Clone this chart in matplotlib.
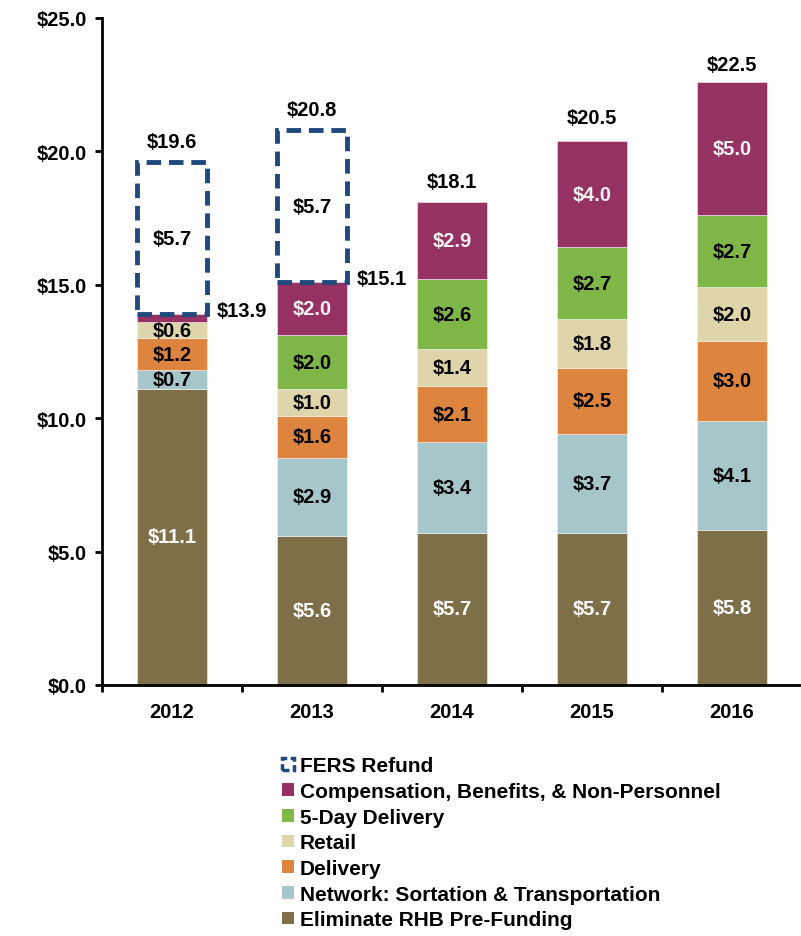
import numpy as np
import matplotlib
matplotlib.use("Agg")
import matplotlib.pyplot as plt
import matplotlib.patches as mpatches

FS = 14.5
plt.rcParams.update({
    "font.family": "Liberation Sans",
    "font.weight": "bold",
    "font.size": FS,
})

# Data
years = ["2012", "2013", "2014", "2015", "2016"]
rhb      = [11.1, 5.6, 5.7, 5.7, 5.8]
network  = [0.7, 2.9, 3.4, 3.7, 4.1]
delivery = [1.2, 1.6, 2.1, 2.5, 3.0]
retail   = [0.6, 1.0, 1.4, 1.8, 2.0]
five_day = [0.0, 2.0, 2.6, 2.7, 2.7]
comp     = [0.3, 2.0, 2.9, 4.0, 5.0]
fers     = [5.7, 5.7, 0.0, 0.0, 0.0]
subtotals = [13.9, 15.1, 18.1, 20.5, 22.5]
totals    = [19.6, 20.8, 18.1, 20.5, 22.5]

series = [
    ("Eliminate RHB Pre-Funding", rhb, "#7f6f48", "white"),
    ("Network: Sortation & Transportation", network, "#a6c6ca", "black"),
    ("Delivery", delivery, "#dd843e", "black"),
    ("Retail", retail, "#ded6aa", "black"),
    ("5-Day Delivery", five_day, "#7eb747", "black"),
    ("Compensation, Benefits, & Non-Personnel", comp, "#963262", "#f2f2f2"),
]
C_FERS = "#1f497d"

fig = plt.figure(figsize=(8.01, 9.37), dpi=100)
ax = fig.add_axes([102 / 801, 1 - 686 / 937, 700 / 801, 667 / 937])

x = np.arange(len(years))
W = 0.5
bottom = np.zeros(len(years))
handles = []
for name, vals, color, tcol in series:
    vals = np.array(vals)
    ax.bar(x, vals, W, bottom=bottom, color=color, edgecolor="#f4f4f4",
           linewidth=0.4, zorder=2)
    for i, v in enumerate(vals):
        if v >= 0.5:
            ax.text(x[i], bottom[i] + v / 2, f"${v:.1f}", ha="center",
                    va="center", color=tcol, fontsize=FS, fontweight="bold",
                    zorder=4)
    bottom += vals
    handles.append(mpatches.Patch(facecolor=color, label=name))

# FERS refund (dashed outline)
fers = np.array(fers)
for i, v in enumerate(fers):
    if v > 0:
        ax.bar(x[i], v, W, bottom=subtotals[i], facecolor="none",
               edgecolor=C_FERS, linewidth=3.5, linestyle=(0, (3, 1.6)),
               zorder=3)
        ax.text(x[i], subtotals[i] + v / 2, f"${v:.1f}", ha="center",
                va="center", color="black", fontsize=FS, zorder=4)
        ax.text(x[i] + W / 2 + 0.07, subtotals[i] + 0.15, f"${subtotals[i]:.1f}",
                ha="left", va="center", fontsize=FS)

for i, t in enumerate(totals):
    ax.text(x[i], t + 0.4, f"${t:.1f}", ha="center", va="bottom", fontsize=FS)

# axes
ax.set_xlim(-0.5, 4.5)
ax.set_ylim(0, 25)
ax.set_yticks(np.arange(0, 25.1, 5))
ax.set_yticklabels([f"${v:.1f}" for v in np.arange(0, 25.1, 5)])
ax.set_xticks(x)
ax.set_xticklabels(years)
ax.set_xticks(np.arange(-0.5, 4.6, 1), minor=True)
ax.tick_params(axis="x", which="major", length=0, pad=12, labelsize=FS)
ax.tick_params(axis="x", which="minor", length=5, width=2, direction="out")
ax.tick_params(axis="y", length=5, width=2, direction="out", pad=6, labelsize=FS)
for s in ["top", "right"]:
    ax.spines[s].set_visible(False)
for s in ["left", "bottom"]:
    ax.spines[s].set_linewidth(2)

# legend
fers_handle = mpatches.Patch(facecolor="white", edgecolor=C_FERS,
                             linewidth=2.5, linestyle=(0, (2, 1)),
                             label="FERS Refund")
leg_handles = [fers_handle] + handles[::-1]
fig.legend(handles=leg_handles, loc="upper left",
           bbox_to_anchor=(274 / 801, 1 - 749 / 937), frameon=False,
           fontsize=FS + 0.5, handlelength=0.55, handleheight=0.55,
           handletextpad=0.3, labelspacing=0.32, borderaxespad=0)

plt.savefig("out.png", dpi=100)
